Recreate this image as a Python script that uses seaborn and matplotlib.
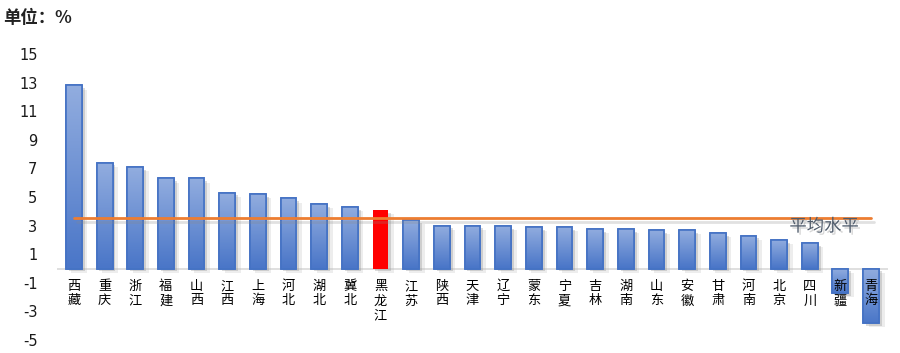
import numpy as np
import matplotlib
matplotlib.use("Agg")
import matplotlib.pyplot as plt
import matplotlib.patheffects as pe
from matplotlib.colors import LinearSegmentedColormap
import seaborn as sns

categories = ["西藏", "重庆", "浙江", "福建", "山西", "江西", "上海", "河北", "湖北", "冀北",
              "黑龙江", "江苏", "陕西", "天津", "辽宁", "蒙东", "宁夏", "吉林", "湖南", "山东",
              "安徽", "甘肃", "河南", "北京", "四川", "新疆", "青海"]
values = [12.8, 7.4, 7.1, 6.3, 6.3, 5.3, 5.2, 4.9, 4.5, 4.3,
          4.1, 3.4, 3.0, 3.0, 2.95, 2.9, 2.9, 2.75, 2.75, 2.7,
          2.7, 2.5, 2.3, 2.0, 1.8, -1.7, -3.8]
highlight = "黑龙江"
average = 3.55
avg_label = "平均水平"
yticks = [-5, -3, -1, 1, 3, 5, 7, 9, 11, 13, 15]
unit_label = "单位：%"

sns.set_theme(style="white")
plt.rcParams["font.family"] = ["Noto Sans CJK SC", "DejaVu Sans"]

fig = plt.figure(figsize=(9, 3.53), dpi=100)
ax = fig.add_axes([57 / 900, (353 - 340) / 353, (888 - 57) / 900, 286 / 353])

blue_edge = "#4472C4"
palette = ["#FF0000" if c == highlight else "#7A9AD8" for c in categories]
sns.barplot(x=categories, y=values, hue=categories, palette=palette, legend=False,
            width=0.52, ax=ax, saturation=1, zorder=3)

shadow = [pe.SimplePatchShadow(offset=(4, -3), shadow_rgbFace="#BBBBBB", alpha=0.25),
          pe.SimplePatchShadow(offset=(2, -2), shadow_rgbFace="#888888", alpha=0.3),
          pe.Normal()]

cmap = LinearSegmentedColormap.from_list("g", ["#4A76C8", "#92ADDF"])
grad = np.linspace(0, 1, 64).reshape(-1, 1)
for patch, cat in zip(ax.patches, categories):
    patch.set_path_effects(shadow)
    if cat == highlight:
        patch.set_edgecolor("none")
        continue
    patch.set_edgecolor(blue_edge)
    patch.set_linewidth(1.2)
    x0, y0 = patch.get_x(), patch.get_y()
    w, h = patch.get_width(), patch.get_height()
    ylo, yhi = min(y0, y0 + h), max(y0, y0 + h)
    top_val = 0 if yhi <= 0 else yhi
    im = ax.imshow(grad, extent=[x0, x0 + w, ylo, top_val], origin="lower",
                   aspect="auto", cmap=cmap, zorder=3.5)
    im.set_clip_path(patch)
    ax.add_patch(plt.Rectangle((x0, y0), w, h, fill=False, edgecolor=blue_edge,
                               linewidth=1.2, zorder=3.6))

ax.axhline(0, color="#D9D9D9", linewidth=1.2, zorder=2)
n = len(categories)
ax.plot([0, n - 1], [average, average], color="#ED7D31", linewidth=2, zorder=4,
        path_effects=[pe.SimpleLineShadow(offset=(2, -3), shadow_color="#888888", alpha=0.25), pe.Normal()])
ax.text(25.6, 2.95, avg_label, ha="right", va="center", fontsize=12.5, color="#4F5B6B",
        zorder=5, path_effects=[pe.withSimplePatchShadow(offset=(1.5, -1.5), shadow_rgbFace="#999999", alpha=0.4)])

ax.set_xlim(-0.55, n - 0.45)
ax.set_ylim(-5, 15)
ax.set_yticks(yticks)
ax.set_yticklabels([str(t) for t in yticks], fontsize=10.5, color="#1A1A1A",
                   family=["DejaVu Sans"])
ax.tick_params(axis="y", length=0, pad=14)
ax.set_xticks([])
ax.set_xlabel("")
ax.set_ylabel("")
for s in ax.spines.values():
    s.set_visible(False)

for i, c in enumerate(categories):
    ax.text(i, -0.8, "\n".join(c), ha="center", va="top", fontsize=9.5,
            color="#000000", linespacing=1.15, zorder=6)

fig.text(3 / 900, 1 - 18 / 353, unit_label, ha="left", va="center", fontsize=12.5,
         fontweight="bold", color="#222222")

fig.savefig("out.png", dpi=100)
